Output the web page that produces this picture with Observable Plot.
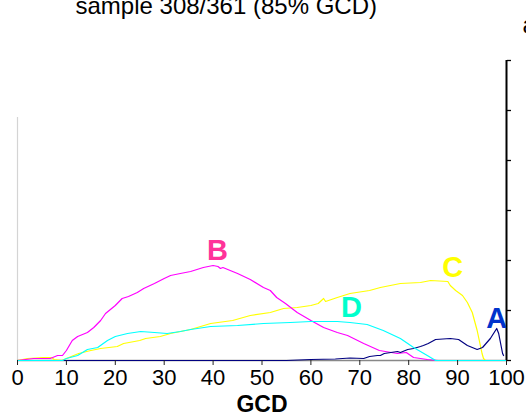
<!DOCTYPE html>
<html>
<head>
<meta charset="utf-8">
<script src="https://cdn.jsdelivr.net/npm/d3@7"></script>
<script src="https://cdn.jsdelivr.net/npm/@observablehq/plot@0.6"></script>
<style>
  html, body { margin: 0; padding: 0; background: #fff; }
  #chart { width: 526px; height: 417px; overflow: hidden; }
</style>
</head>
<body>
<div id="chart"></div>
<script>
// ---- Data (values in units of the right-axis tick spacing) ----
const titleText = "sample 308/361 (85% GCD)";
const cornerText = "a";
const xLabel = "GCD";
const xTicks = [0, 10, 20, 30, 40, 50, 60, 70, 80, 90, 100];
const yTicks = [0, 1, 2, 3, 4, 5, 6];

const aX = [9.5, 55, 60, 65, 68, 70.8, 72, 73.6, 74.2, 75, 77.7, 78.3, 79.8, 81, 82.4, 83, 84, 85.5, 88.5, 90.2, 92, 94, 95.1, 96.7, 98, 98.4, 99.2, 99.4];
const aY = [0, 0, 0.02, 0.03, 0.05, 0.04, 0.08, 0.1, 0.1, 0.14, 0.18, 0.16, 0.22, 0.24, 0.28, 0.3, 0.34, 0.42, 0.44, 0.42, 0.3, 0.22, 0.26, 0.44, 0.64, 0.54, 0.14, 0.1];

const bX = [0, 3.3, 6.7, 8.2, 9.2, 10, 11.2, 12.3, 14.3, 15.6, 17, 18, 20, 21.4, 22.7, 24.5, 25.8, 28, 30, 31.3, 33.3, 35.4, 38, 40, 41, 41.5, 42, 45, 47.6, 50.3, 51.7, 53, 54.8, 57.2, 60, 62.6, 65.4, 67.5, 70.8, 74, 77.7, 79.5, 81, 83.8, 86, 100];
const bY = [0, 0.04, 0.04, 0.1, 0.1, 0.2, 0.4, 0.48, 0.56, 0.66, 0.8, 0.94, 1.1, 1.24, 1.28, 1.36, 1.44, 1.54, 1.64, 1.7, 1.74, 1.78, 1.86, 1.9, 1.88, 1.84, 1.86, 1.74, 1.62, 1.46, 1.4, 1.26, 1.14, 0.96, 0.8, 0.66, 0.56, 0.5, 0.34, 0.2, 0.14, 0.16, 0.06, 0.02, 0, 0];

const cX = [0, 2, 5.3, 7, 7.5, 9, 10, 12.5, 15, 17, 20.4, 21.7, 25, 26.2, 29.2, 31.3, 35.4, 39.5, 44, 47.6, 51.7, 54.4, 57.2, 60, 61.5, 62.6, 63, 65.4, 68, 72, 74.2, 78.3, 82.4, 84.5, 88, 88.5, 89.6, 91, 92, 93, 94, 95, 95.3, 95.7, 100];
const cY = [0, 0.04, 0.06, 0.06, 0.02, 0, 0.04, 0.14, 0.2, 0.24, 0.28, 0.34, 0.4, 0.44, 0.48, 0.54, 0.62, 0.74, 0.8, 0.9, 0.96, 1.04, 1.06, 1.1, 1.14, 1.24, 1.18, 1.26, 1.34, 1.4, 1.46, 1.54, 1.56, 1.6, 1.58, 1.5, 1.4, 1.3, 1.16, 0.96, 0.6, 0.14, 0.04, 0, 0];

const dX = [0, 9.2, 10, 12.3, 14.3, 16.4, 18.4, 20, 22.5, 25.2, 28, 30.6, 33.3, 35.4, 39.5, 45, 50.3, 55.8, 60, 65.4, 68, 71.5, 74.8, 78.3, 81, 83.8, 85.5, 100];
const dY = [0, 0, 0.04, 0.1, 0.22, 0.26, 0.4, 0.48, 0.54, 0.58, 0.56, 0.54, 0.58, 0.62, 0.68, 0.7, 0.74, 0.76, 0.78, 0.78, 0.76, 0.72, 0.6, 0.44, 0.26, 0.1, 0, 0];

const seriesNames = ["C", "B", "A", "D"];
const seriesColors = {A: "#000080", B: "#ff00ff", C: "#ffff00", D: "#00ffff"};
const labelNames = ["A", "B", "C", "D"];
const labelX = [98, 40.9, 89, 68.3];
const labelY = [0.83, 2.19, 1.85, 1.05];
const labelColors = ["#0033cc", "#ff3399", "#ffff00", "#00ffcc"];

// ---- Build tables ----
const seriesData = {
  A: aX.map((x, i) => ({x, y: aY[i]})),
  B: bX.map((x, i) => ({x, y: bY[i]})),
  C: cX.map((x, i) => ({x, y: cY[i]})),
  D: dX.map((x, i) => ({x, y: dY[i]}))
};
const labels = labelNames.map((t, i) => ({t, x: labelX[i], y: labelY[i], c: labelColors[i]}));

const font = "'Liberation Sans', Arial, Helvetica, sans-serif";

const chart = Plot.plot({
  width: 526,
  height: 417,
  marginLeft: 17,
  marginRight: 20,
  marginTop: 60,
  marginBottom: 57,
  style: {background: "#fff", fontFamily: font, overflow: "visible"},
  x: {domain: [0, 100]},
  y: {domain: [0, 6]},
  marks: [
    Plot.ruleX([0], {y1: 0, y2: 4.86, stroke: "#d4d4d4", strokeWidth: 1.2}),
    Plot.ruleY([0], {stroke: "#888", strokeWidth: 1.5}),
    ...seriesNames.map(n => Plot.line(seriesData[n], {x: "x", y: "y", stroke: seriesColors[n], strokeWidth: 1.2})),
    Plot.axisX({ticks: xTicks, tickSize: 5, tickPadding: 4, fontSize: 22, stroke: "#222", color: "#000", label: null}),
    Plot.axisY({anchor: "right", ticks: yTicks, tickSize: 4, tickFormat: () => "", stroke: "#000", strokeWidth: 1.3, label: null}),
    Plot.ruleX([100], {y1: 0, y2: 6, stroke: "#000", strokeWidth: 2}),
    Plot.text(labels, {x: "x", y: "y", text: "t", fill: "c", fontSize: 29, fontWeight: "bold", textAnchor: "middle"}),
    Plot.text([xLabel], {frameAnchor: "bottom", dy: 51.5, fontSize: 23, fontWeight: "bold", fill: "#000"}),
    Plot.text([titleText], {frameAnchor: "top-left", dx: 58, dy: -64, textAnchor: "start", fontSize: 24, fill: "#000"}),
    Plot.text([cornerText], {frameAnchor: "top-right", dx: 16, dy: -45, textAnchor: "start", fontSize: 24, fill: "#000"})
  ]
});
document.getElementById("chart").appendChild(chart);
</script>
</body>
</html>
